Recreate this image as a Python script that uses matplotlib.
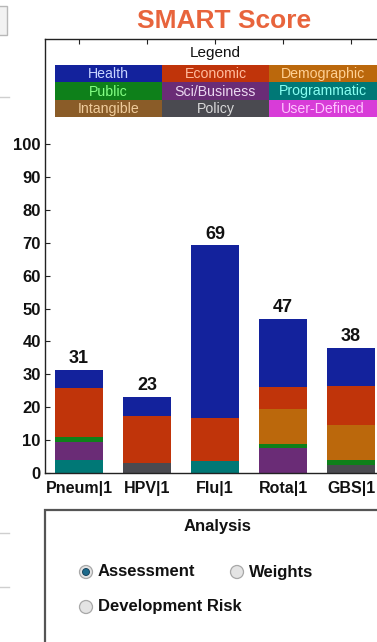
import matplotlib
matplotlib.use("Agg")
import matplotlib.pyplot as plt
from matplotlib.patches import Rectangle, Ellipse
import numpy as np

# ---------------- data ----------------
categories = ["Pneum|1", "HPV|1", "Flu|1", "Rota|1", "GBS|1"]

# stacked from bottom to top
user_defined = [0.0, 0.0, 0.0, 0.0, 0.0]
policy       = [0.0, 3.0, 0.0, 0.0, 2.5]
intangible   = [0.0, 0.0, 0.0, 0.0, 0.0]
programmatic = [4.0, 0.0, 3.8, 0.0, 0.0]
sci_business = [5.5, 0.0, 0.0, 7.5, 0.0]
public       = [1.5, 0.0, 0.0, 1.3, 1.5]
demographic  = [0.0, 0.0, 0.0, 10.7, 10.6]
economic     = [14.8, 14.4, 12.9, 6.6, 11.9]
health       = [5.5, 5.7, 52.5, 20.8, 11.5]

series_names = ["User-Defined", "Policy", "Intangible", "Programmatic",
                "Sci/Business", "Public", "Demographic", "Economic", "Health"]
series_values = [user_defined, policy, intangible, programmatic,
                 sci_business, public, demographic, economic, health]

legend_rows = [["Health", "Economic", "Demographic"],
               ["Public", "Sci/Business", "Programmatic"],
               ["Intangible", "Policy", "User-Defined"]]

y_ticks = list(range(0, 101, 10))

# ---------------- style ----------------
colors = {
    "Health": "#13229c",
    "Economic": "#c0340a",
    "Demographic": "#bb680c",
    "Public": "#0e801a",
    "Sci/Business": "#6a2c76",
    "Programmatic": "#007876",
    "Intangible": "#8a5c28",
    "Policy": "#4a4a50",
    "User-Defined": "#d83cd8",
}
text_colors = {
    "Health": "#c8d4ff",
    "Economic": "#ffbc9e",
    "Demographic": "#ffd094",
    "Public": "#84ff84",
    "Sci/Business": "#ead8f0",
    "Programmatic": "#88fff2",
    "Intangible": "#f0cc9c",
    "Policy": "#d8d8d8",
    "User-Defined": "#ffc4ff",
}

FONT = "Liberation Sans"
W, H = 377, 642
fig = plt.figure(figsize=(W / 100, H / 100), dpi=100)
fig.patch.set_facecolor("white")


def fx(x):
    return x / W


def fy(y):
    return 1 - y / H


# axes: left 45px, top 39px, bottom 473px, right 385px (beyond image)
ax_left, ax_top, ax_bottom, ax_right = 45, 39, 473, 385
ax = fig.add_axes([fx(ax_left), fy(ax_bottom), (ax_right - ax_left) / W,
                   (ax_bottom - ax_top) / H])

x = np.arange(1, len(categories) + 1)
bottom = np.zeros(len(categories))
for name, vals in zip(series_names, series_values):
    vals = np.array(vals)
    ax.bar(x, vals, width=0.72, bottom=bottom, color=colors[name],
           edgecolor="none", zorder=2)
    bottom += vals

totals = bottom
for xi, t in zip(x, totals):
    ax.annotate(f"{t:.0f}", (xi, t), xytext=(0, 2), textcoords="offset points",
                ha="center", va="bottom", fontsize=13, fontweight="bold",
                family=FONT, color="#111111")

ax.set_xlim(0.5, 5.5)
ax.set_ylim(0, 132)
ax.set_yticks(y_ticks)
ax.set_yticklabels([str(v) for v in y_ticks], fontsize=12, fontweight="bold",
                   family=FONT, color="#111111")
ax.set_xticks(x)
ax.set_xticklabels(categories, fontsize=11.5, fontweight="bold", family=FONT,
                   color="#111111")
ax.tick_params(axis="both", direction="in", length=3.5, width=0.8,
               top=True, right=True, color="#222222")
ax.tick_params(axis="x", pad=6)
ax.tick_params(axis="y", pad=3)
for s in ax.spines.values():
    s.set_linewidth(1.0)
    s.set_color("#222222")

# title
fig.text(fx(224), fy(21), "SMART Score", ha="center", va="center",
         fontsize=19, fontweight="bold", family=FONT, color="#e8643c")

# legend block inside the axes
fig.text(fx(215), fy(53), "Legend", ha="center", va="center", fontsize=11,
         family=FONT, color="#111111")
col_edges = [55, 162, 269, 377]
row_edges = [65, 82, 100, 117]
for r, row in enumerate(legend_rows):
    for c, name in enumerate(row):
        x0, x1 = col_edges[c], col_edges[c + 1]
        y0, y1 = row_edges[r], row_edges[r + 1]
        fig.patches.append(Rectangle((fx(x0), fy(y1)), (x1 - x0) / W,
                                     (y1 - y0) / H, transform=fig.transFigure,
                                     facecolor=colors[name], edgecolor="none",
                                     zorder=3))
        fig.text(fx((x0 + x1) / 2), fy((y0 + y1) / 2 + 0.5), name,
                 ha="center", va="center", fontsize=10.2, family=FONT,
                 color=text_colors[name], zorder=4)

# Analysis panel
fig.patches.append(Rectangle((fx(45), fy(660)), (400 - 45) / W, (660 - 510) / H,
                             transform=fig.transFigure, facecolor="white",
                             edgecolor="#555555", linewidth=1.6, zorder=1))
fig.text(fx(218), fy(527), "Analysis", ha="center", va="center", fontsize=12,
         fontweight="bold", family=FONT, color="#111111")

radios = [(86, 572, "Assessment", True), (237, 572, "Weights", False),
          (86, 607, "Development Risk", False)]
for cx, cy, label, sel in radios:
    fig.patches.append(Ellipse((fx(cx), fy(cy)), 13 / W, 13 / H,
                               transform=fig.transFigure,
                               facecolor="#e4e4e4", edgecolor="#a8a8a8",
                               linewidth=0.9, zorder=3))
    if sel:
        fig.patches.append(Ellipse((fx(cx), fy(cy)), 7 / W, 7 / H,
                                   transform=fig.transFigure,
                                   facecolor="#1e6a8a", edgecolor="#0e3a55",
                                   linewidth=0.6, zorder=4))
    fig.text(fx(cx + 12), fy(cy), label, ha="left", va="center", fontsize=12,
             fontweight="bold", family=FONT, color="#111111")

# faint UI remnants on the left edge
fig.patches.append(Rectangle((fx(-4), fy(35)), 11 / W, 29 / H,
                             transform=fig.transFigure, facecolor="#f2f2f2",
                             edgecolor="#b8b8b8", linewidth=1.0, zorder=1))
for yy in [97, 533, 587]:
    fig.lines.append(plt.Line2D([fx(0), fx(9)], [fy(yy), fy(yy)],
                                transform=fig.transFigure, color="#cfcfcf",
                                linewidth=1.0))

fig.savefig("out.png", dpi=100)
